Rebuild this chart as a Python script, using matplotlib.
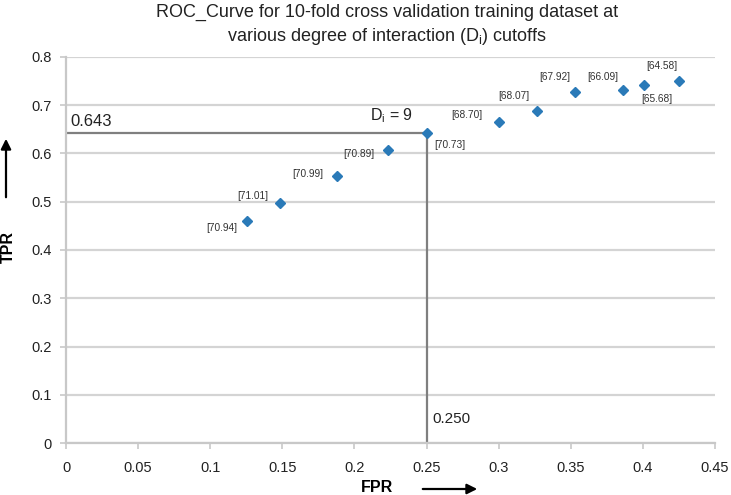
import matplotlib
matplotlib.use("Agg")
import matplotlib.pyplot as plt

plt.rcParams['font.family'] = ['Liberation Sans', 'DejaVu Sans']

# ROC points for each D_i cutoff
fpr = [0.1255, 0.1484, 0.188, 0.2233, 0.250, 0.300, 0.3266, 0.353, 0.3863, 0.4008, 0.425]
tpr = [0.460, 0.497, 0.553, 0.607, 0.643, 0.665, 0.688, 0.727, 0.7316, 0.742, 0.750]
labels = ['[70.94]', '[71.01]', '[70.99]', '[70.89]', '[70.73]', '[68.70]',
          '[68.07]', '[67.92]', '[66.09]', '[65.68]', '[64.58]']
# label offsets in pixels relative to each point
offsets = [(-25, -7), (-27, 7), (-29, 2), (-29, -4), (23, -12), (-32, 7),
           (-23, 15), (-20, 15), (-20, 13), (13, -14), (-17, 15)]

cut_fpr = 0.250
cut_tpr = 0.643

xticks = [0, 0.05, 0.1, 0.15, 0.2, 0.25, 0.3, 0.35, 0.4, 0.45]
yticks = [0, 0.1, 0.2, 0.3, 0.4, 0.5, 0.6, 0.7, 0.8]

fig = plt.figure(figsize=(7.31, 4.95), dpi=100)
ax = fig.add_axes([0.0903, 0.105, 0.978 - 0.0903, 0.885 - 0.105])

ax.set_xlim(0, 0.45)
ax.set_ylim(0, 0.8)
ax.set_xticks(xticks)
ax.set_yticks(yticks)
ax.set_xticklabels([f"{t:g}" for t in xticks])
ax.set_yticklabels([f"{t:g}" for t in yticks])
ax.grid(axis='y', color='#d4d4d4', lw=1.6)
ax.set_axisbelow(True)
for s in ['top', 'right']:
    ax.spines[s].set_visible(False)
for s in ['left', 'bottom']:
    ax.spines[s].set_color('#c8c8c8')
    ax.spines[s].set_linewidth(1.6)
ax.tick_params(axis='both', colors='#c8c8c8', labelcolor='#222222',
               labelsize=10.5, length=4, width=1.2, pad=6)
ax.tick_params(axis='x', pad=9)

# cutoff lines
ax.plot([0, cut_fpr], [cut_tpr, cut_tpr], color='#7f7f7f', lw=1.6, zorder=2)
ax.plot([cut_fpr, cut_fpr], [0, cut_tpr], color='#7f7f7f', lw=1.6, zorder=2)

ax.plot(fpr, tpr, 'D', color='#2a7ab8', markersize=4.8, zorder=3)
for x, y, lab, (dx, dy) in zip(fpr, tpr, labels, offsets):
    ax.annotate(lab, (x, y), xytext=(dx, dy), textcoords='offset pixels',
                ha='center', va='center', fontsize=7.3, color='#333333')

ax.annotate(f"{cut_tpr:.3f}", (0, cut_tpr), xytext=(4, 11), textcoords='offset pixels',
            ha='left', va='center', fontsize=12, color='#222222')
ax.annotate(f"{cut_fpr:.3f}", (cut_fpr, 0), xytext=(25, 24), textcoords='offset pixels',
            ha='center', va='center', fontsize=11, color='#222222')
ax.annotate("D$_\\mathregular{i}$ = 9", (cut_fpr, cut_tpr), xytext=(-35, 17),
            textcoords='offset pixels', ha='center', va='center', fontsize=11.5,
            color='#222222')

fig.suptitle("ROC_Curve for 10-fold cross validation training dataset at\n"
             "various degree of interaction (D$_\\mathregular{i}$) cutoffs",
             x=0.530, y=0.993, fontsize=13, color='#222222', linespacing=1.35)

# axis labels with arrows
fig.text(377 / 731, 1 - 488 / 495, "FPR", fontsize=11.5, fontweight='bold',
         ha='center', va='center')
fig.add_artist(matplotlib.patches.FancyArrowPatch(
    (420 / 731, 1 - 489 / 495), (480 / 731, 1 - 489 / 495),
    transform=fig.transFigure, arrowstyle='-|>', mutation_scale=15,
    color='black', lw=1.6))
fig.text(8 / 731, 1 - 247 / 495, "TPR", fontsize=11.5, fontweight='bold',
         rotation=90, ha='center', va='center')
fig.add_artist(matplotlib.patches.FancyArrowPatch(
    (6 / 731, 1 - 200 / 495), (6 / 731, 1 - 136 / 495),
    transform=fig.transFigure, arrowstyle='-|>', mutation_scale=15,
    color='black', lw=1.6))

fig.savefig("out.png", dpi=100)
